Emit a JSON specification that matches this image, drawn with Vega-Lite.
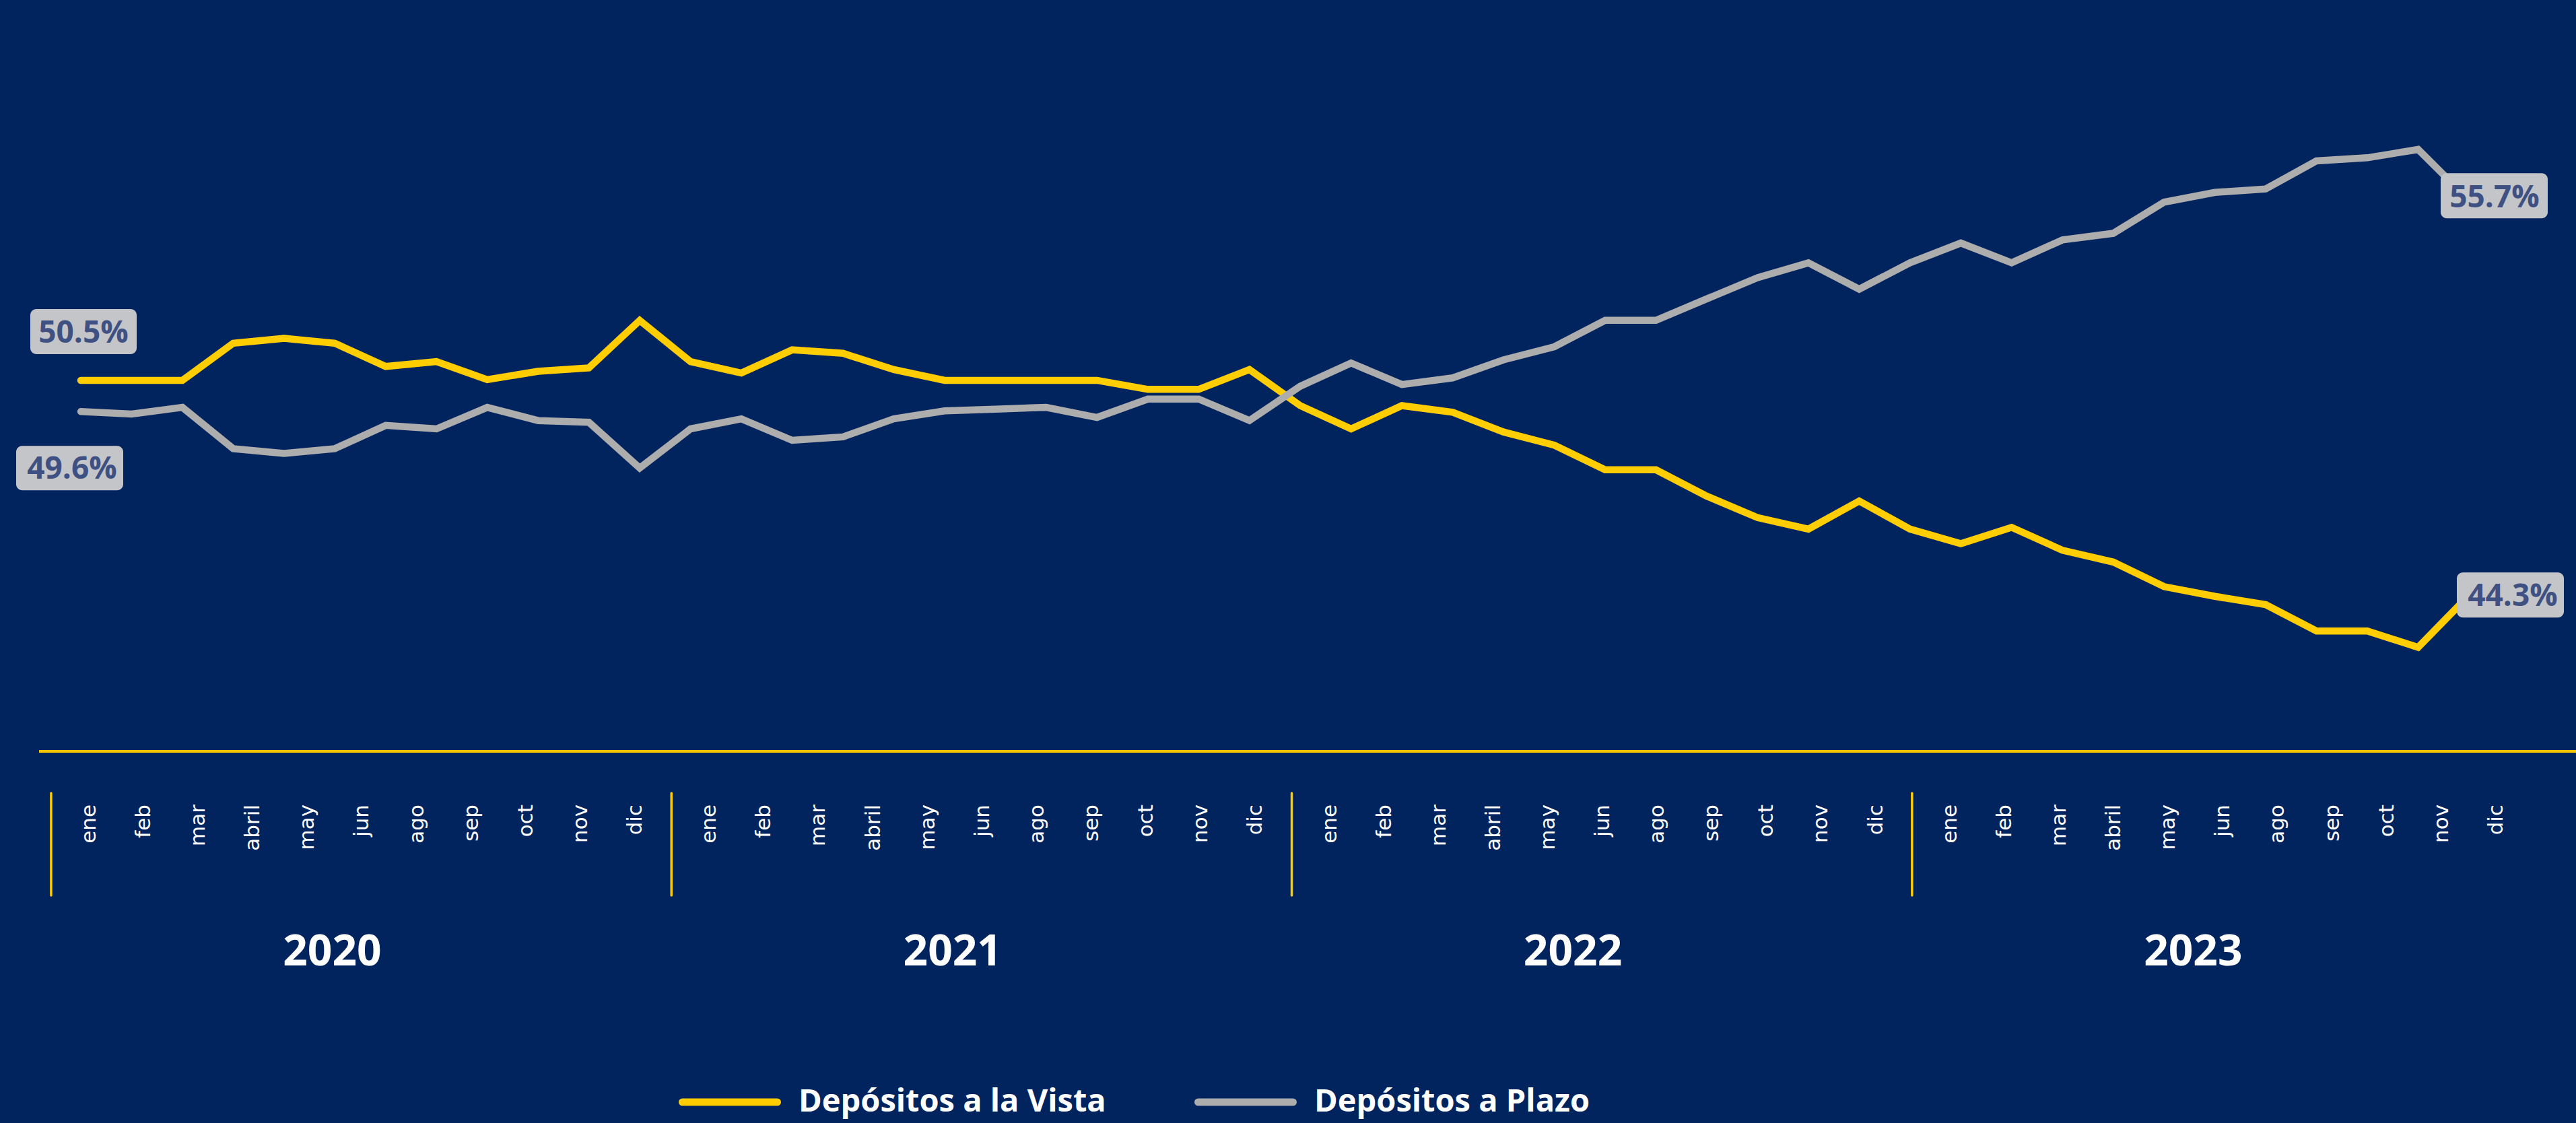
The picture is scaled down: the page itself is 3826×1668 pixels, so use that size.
{
  "$schema": "https://vega.github.io/schema/vega-lite/v6.json",
  "width": 3826,
  "height": 1668,
  "autosize": {"type": "none"},
  "padding": 0,
  "background": "#02245E",
  "config": {"view": {"stroke": null}, "font": "Open Sans"},
  "datasets": {
    "serie": [
      {"mes":"2020-01","serie":"Depósitos a la Vista","valor":50.5},
      {"mes":"2020-02","serie":"Depósitos a la Vista","valor":50.5},
      {"mes":"2020-03","serie":"Depósitos a la Vista","valor":50.5},
      {"mes":"2020-04","serie":"Depósitos a la Vista","valor":51.57},
      {"mes":"2020-05","serie":"Depósitos a la Vista","valor":51.71},
      {"mes":"2020-06","serie":"Depósitos a la Vista","valor":51.57},
      {"mes":"2020-07","serie":"Depósitos a la Vista","valor":50.9},
      {"mes":"2020-08","serie":"Depósitos a la Vista","valor":51.04},
      {"mes":"2020-09","serie":"Depósitos a la Vista","valor":50.52},
      {"mes":"2020-10","serie":"Depósitos a la Vista","valor":50.76},
      {"mes":"2020-11","serie":"Depósitos a la Vista","valor":50.86},
      {"mes":"2020-12","serie":"Depósitos a la Vista","valor":52.23},
      {"mes":"2021-01","serie":"Depósitos a la Vista","valor":51.04},
      {"mes":"2021-02","serie":"Depósitos a la Vista","valor":50.71},
      {"mes":"2021-03","serie":"Depósitos a la Vista","valor":51.38},
      {"mes":"2021-04","serie":"Depósitos a la Vista","valor":51.28},
      {"mes":"2021-05","serie":"Depósitos a la Vista","valor":50.81},
      {"mes":"2021-06","serie":"Depósitos a la Vista","valor":50.5},
      {"mes":"2021-07","serie":"Depósitos a la Vista","valor":50.5},
      {"mes":"2021-08","serie":"Depósitos a la Vista","valor":50.5},
      {"mes":"2021-09","serie":"Depósitos a la Vista","valor":50.5},
      {"mes":"2021-10","serie":"Depósitos a la Vista","valor":50.24},
      {"mes":"2021-11","serie":"Depósitos a la Vista","valor":50.24},
      {"mes":"2021-12","serie":"Depósitos a la Vista","valor":50.81},
      {"mes":"2022-01","serie":"Depósitos a la Vista","valor":49.77},
      {"mes":"2022-02","serie":"Depósitos a la Vista","valor":49.1},
      {"mes":"2022-03","serie":"Depósitos a la Vista","valor":49.77},
      {"mes":"2022-04","serie":"Depósitos a la Vista","valor":49.58},
      {"mes":"2022-05","serie":"Depósitos a la Vista","valor":49.01},
      {"mes":"2022-06","serie":"Depósitos a la Vista","valor":48.63},
      {"mes":"2022-07","serie":"Depósitos a la Vista","valor":47.92},
      {"mes":"2022-08","serie":"Depósitos a la Vista","valor":47.92},
      {"mes":"2022-09","serie":"Depósitos a la Vista","valor":47.16},
      {"mes":"2022-10","serie":"Depósitos a la Vista","valor":46.54},
      {"mes":"2022-11","serie":"Depósitos a la Vista","valor":46.21},
      {"mes":"2022-12","serie":"Depósitos a la Vista","valor":47.02},
      {"mes":"2023-01","serie":"Depósitos a la Vista","valor":46.21},
      {"mes":"2023-02","serie":"Depósitos a la Vista","valor":45.79},
      {"mes":"2023-03","serie":"Depósitos a la Vista","valor":46.26},
      {"mes":"2023-04","serie":"Depósitos a la Vista","valor":45.6},
      {"mes":"2023-05","serie":"Depósitos a la Vista","valor":45.26},
      {"mes":"2023-06","serie":"Depósitos a la Vista","valor":44.55},
      {"mes":"2023-07","serie":"Depósitos a la Vista","valor":44.27},
      {"mes":"2023-08","serie":"Depósitos a la Vista","valor":44.03},
      {"mes":"2023-09","serie":"Depósitos a la Vista","valor":43.27},
      {"mes":"2023-10","serie":"Depósitos a la Vista","valor":43.27},
      {"mes":"2023-11","serie":"Depósitos a la Vista","valor":42.8},
      {"mes":"2023-12","serie":"Depósitos a la Vista","valor":44.3},
      {"mes":"2020-01","serie":"Depósitos a Plazo","valor":49.6},
      {"mes":"2020-02","serie":"Depósitos a Plazo","valor":49.53},
      {"mes":"2020-03","serie":"Depósitos a Plazo","valor":49.72},
      {"mes":"2020-04","serie":"Depósitos a Plazo","valor":48.53},
      {"mes":"2020-05","serie":"Depósitos a Plazo","valor":48.39},
      {"mes":"2020-06","serie":"Depósitos a Plazo","valor":48.53},
      {"mes":"2020-07","serie":"Depósitos a Plazo","valor":49.2},
      {"mes":"2020-08","serie":"Depósitos a Plazo","valor":49.1},
      {"mes":"2020-09","serie":"Depósitos a Plazo","valor":49.72},
      {"mes":"2020-10","serie":"Depósitos a Plazo","valor":49.34},
      {"mes":"2020-11","serie":"Depósitos a Plazo","valor":49.29},
      {"mes":"2020-12","serie":"Depósitos a Plazo","valor":47.97},
      {"mes":"2021-01","serie":"Depósitos a Plazo","valor":49.1},
      {"mes":"2021-02","serie":"Depósitos a Plazo","valor":49.39},
      {"mes":"2021-03","serie":"Depósitos a Plazo","valor":48.77},
      {"mes":"2021-04","serie":"Depósitos a Plazo","valor":48.87},
      {"mes":"2021-05","serie":"Depósitos a Plazo","valor":49.39},
      {"mes":"2021-06","serie":"Depósitos a Plazo","valor":49.62},
      {"mes":"2021-07","serie":"Depósitos a Plazo","valor":49.67},
      {"mes":"2021-08","serie":"Depósitos a Plazo","valor":49.72},
      {"mes":"2021-09","serie":"Depósitos a Plazo","valor":49.43},
      {"mes":"2021-10","serie":"Depósitos a Plazo","valor":49.96},
      {"mes":"2021-11","serie":"Depósitos a Plazo","valor":49.96},
      {"mes":"2021-12","serie":"Depósitos a Plazo","valor":49.34},
      {"mes":"2022-01","serie":"Depósitos a Plazo","valor":50.33},
      {"mes":"2022-02","serie":"Depósitos a Plazo","valor":51.0},
      {"mes":"2022-03","serie":"Depósitos a Plazo","valor":50.38},
      {"mes":"2022-04","serie":"Depósitos a Plazo","valor":50.57},
      {"mes":"2022-05","serie":"Depósitos a Plazo","valor":51.09},
      {"mes":"2022-06","serie":"Depósitos a Plazo","valor":51.47},
      {"mes":"2022-07","serie":"Depósitos a Plazo","valor":52.23},
      {"mes":"2022-08","serie":"Depósitos a Plazo","valor":52.23},
      {"mes":"2022-09","serie":"Depósitos a Plazo","valor":52.85},
      {"mes":"2022-10","serie":"Depósitos a Plazo","valor":53.46},
      {"mes":"2022-11","serie":"Depósitos a Plazo","valor":53.89},
      {"mes":"2022-12","serie":"Depósitos a Plazo","valor":53.13},
      {"mes":"2023-01","serie":"Depósitos a Plazo","valor":53.89},
      {"mes":"2023-02","serie":"Depósitos a Plazo","valor":54.46},
      {"mes":"2023-03","serie":"Depósitos a Plazo","valor":53.89},
      {"mes":"2023-04","serie":"Depósitos a Plazo","valor":54.55},
      {"mes":"2023-05","serie":"Depósitos a Plazo","valor":54.74},
      {"mes":"2023-06","serie":"Depósitos a Plazo","valor":55.64},
      {"mes":"2023-07","serie":"Depósitos a Plazo","valor":55.92},
      {"mes":"2023-08","serie":"Depósitos a Plazo","valor":56.02},
      {"mes":"2023-09","serie":"Depósitos a Plazo","valor":56.83},
      {"mes":"2023-10","serie":"Depósitos a Plazo","valor":56.92},
      {"mes":"2023-11","serie":"Depósitos a Plazo","valor":57.16},
      {"mes":"2023-12","serie":"Depósitos a Plazo","valor":55.7}
    ],
    "meses": [
      {"anio":"2020","mes":"ene"},{"anio":"2020","mes":"feb"},{"anio":"2020","mes":"mar"},{"anio":"2020","mes":"abril"},{"anio":"2020","mes":"may"},{"anio":"2020","mes":"jun"},{"anio":"2020","mes":"ago"},{"anio":"2020","mes":"sep"},{"anio":"2020","mes":"oct"},{"anio":"2020","mes":"nov"},{"anio":"2020","mes":"dic"},
      {"anio":"2021","mes":"ene"},{"anio":"2021","mes":"feb"},{"anio":"2021","mes":"mar"},{"anio":"2021","mes":"abril"},{"anio":"2021","mes":"may"},{"anio":"2021","mes":"jun"},{"anio":"2021","mes":"ago"},{"anio":"2021","mes":"sep"},{"anio":"2021","mes":"oct"},{"anio":"2021","mes":"nov"},{"anio":"2021","mes":"dic"},
      {"anio":"2022","mes":"ene"},{"anio":"2022","mes":"feb"},{"anio":"2022","mes":"mar"},{"anio":"2022","mes":"abril"},{"anio":"2022","mes":"may"},{"anio":"2022","mes":"jun"},{"anio":"2022","mes":"ago"},{"anio":"2022","mes":"sep"},{"anio":"2022","mes":"oct"},{"anio":"2022","mes":"nov"},{"anio":"2022","mes":"dic"},
      {"anio":"2023","mes":"ene"},{"anio":"2023","mes":"feb"},{"anio":"2023","mes":"mar"},{"anio":"2023","mes":"abril"},{"anio":"2023","mes":"may"},{"anio":"2023","mes":"jun"},{"anio":"2023","mes":"ago"},{"anio":"2023","mes":"sep"},{"anio":"2023","mes":"oct"},{"anio":"2023","mes":"nov"},{"anio":"2023","mes":"dic"}
    ],
    "anios": [{"anio":"2020"},{"anio":"2021"},{"anio":"2022"},{"anio":"2023"}]
  },
  "resolve": {"scale": {"x": "independent"}},
  "layer": [
    {
      "data": {"name": "serie"},
      "transform": [{"calculate": "format(datum.valor, '.1f') + '%'", "as": "etiqueta"}],
      "encoding": {
        "x": {"field": "mes", "type": "ordinal", "scale": {"type": "point", "padding": 0, "range": [120, 3667]}, "axis": null},
        "y": {"field": "valor", "type": "quantitative", "scale": {"domain": [29.08, 61.47], "nice": false, "zero": false}, "axis": null}
      },
      "layer": [
        {
          "mark": {"type": "line", "strokeWidth": 10.5, "strokeCap": "round", "strokeJoin": "miter"},
          "encoding": {
            "color": {
              "field": "serie", "type": "nominal",
              "scale": {"domain": ["Depósitos a la Vista", "Depósitos a Plazo"], "range": ["#FFCD00", "#ADADAD"]},
              "legend": {
                "orient": "none", "legendX": 1008, "legendY": 1612, "direction": "horizontal",
                "title": null, "symbolType": "stroke", "symbolSize": 19881, "symbolStrokeWidth": 11,
                "clipHeight": 50, "labelFont": "Open Sans", "labelFontSize": 47, "labelFontWeight": "bold",
                "labelColor": "#FFFFFF", "labelOffset": 26, "columnPadding": 131, "labelLimit": 2000, "padding": 0,
                "encode": {"symbols": {"update": {"strokeCap": {"value": "round"}}}}
              }
            }
          }
        },
        {
          "transform": [{"filter": "datum.serie === 'Depósitos a la Vista' && datum.mes === '2020-01'"}],
          "layer": [
            {"mark": {"type": "rect", "color": "#C4C5C9", "cornerRadius": 9, "xOffset": -75, "x2Offset": 83, "yOffset": -106, "y2Offset": -39},
             "encoding": {"x2": {"field": "mes"}, "y2": {"field": "valor"}}},
            {"mark": {"type": "text", "font": "Open Sans", "fontWeight": "bold", "fontSize": 46, "color": "#3F5182", "dx": 4, "dy": -70, "align": "center", "baseline": "middle"},
             "encoding": {"text": {"field": "etiqueta"}}}
          ]
        },
        {
          "transform": [{"filter": "datum.serie === 'Depósitos a Plazo' && datum.mes === '2020-01'"}],
          "layer": [
            {"mark": {"type": "rect", "color": "#C4C5C9", "cornerRadius": 9, "xOffset": -96, "x2Offset": 63, "yOffset": 51, "y2Offset": 117},
             "encoding": {"x2": {"field": "mes"}, "y2": {"field": "valor"}}},
            {"mark": {"type": "text", "font": "Open Sans", "fontWeight": "bold", "fontSize": 46, "color": "#3F5182", "dx": -13, "dy": 86, "align": "center", "baseline": "middle"},
             "encoding": {"text": {"field": "etiqueta"}}}
          ]
        },
        {
          "transform": [{"filter": "datum.serie === 'Depósitos a Plazo' && datum.mes === '2023-12'"}],
          "layer": [
            {"mark": {"type": "rect", "color": "#C4C5C9", "cornerRadius": 9, "xOffset": -42, "x2Offset": 117, "yOffset": -40, "y2Offset": 27},
             "encoding": {"x2": {"field": "mes"}, "y2": {"field": "valor"}}},
            {"mark": {"type": "text", "font": "Open Sans", "fontWeight": "bold", "fontSize": 46, "color": "#3F5182", "dx": 38, "dy": -3, "align": "center", "baseline": "middle"},
             "encoding": {"text": {"field": "etiqueta"}}}
          ]
        },
        {
          "transform": [{"filter": "datum.serie === 'Depósitos a la Vista' && datum.mes === '2023-12'"}],
          "layer": [
            {"mark": {"type": "rect", "color": "#C4C5C9", "cornerRadius": 9, "xOffset": -18, "x2Offset": 141, "yOffset": -34, "y2Offset": 33},
             "encoding": {"x2": {"field": "mes"}, "y2": {"field": "valor"}}},
            {"mark": {"type": "text", "font": "Open Sans", "fontWeight": "bold", "fontSize": 46, "color": "#3F5182", "dx": 65, "dy": 2, "align": "center", "baseline": "middle"},
             "encoding": {"text": {"field": "etiqueta"}}}
          ]
        }
      ]
    },
    {
      "layer": [
        {
          "data": {"values": [{}]},
          "mark": {"type": "rule", "color": "#F5C400", "strokeWidth": 4},
          "encoding": {"x": {"value": 58}, "x2": {"value": {"expr": "width"}}, "y": {"value": 1116}}
        },
        {
          "data": {"name": "meses"},
          "mark": {"type": "text", "font": "DejaVu Sans", "fontSize": 31, "color": "#FFFFFF", "angle": 270, "align": "right", "baseline": "middle"},
          "encoding": {
            "x": {"field": "anio", "type": "nominal", "scale": {"type": "band", "paddingInner": 0.0318, "paddingOuter": 0.0923, "align": 0.5435}, "axis": null},
            "xOffset": {"field": "mes", "type": "nominal", "sort": ["ene","feb","mar","abril","may","jun","ago","sep","oct","nov","dic"], "scale": {"type": "point", "padding": 0.5}},
            "y": {"value": 1195},
            "text": {"field": "mes"}
          }
        },
        {
          "data": {"name": "anios"},
          "mark": {"type": "rule", "color": "#FFCD00", "strokeWidth": 3.5, "strokeCap": "round", "xOffset": -16.5},
          "encoding": {
            "x": {"field": "anio", "type": "nominal", "bandPosition": 0},
            "y": {"value": 1178},
            "y2": {"value": 1330}
          }
        },
        {
          "data": {"name": "anios"},
          "mark": {"type": "text", "font": "Open Sans", "fontWeight": "bold", "fontSize": 64, "color": "#FFFFFF", "dx": -45, "align": "center", "baseline": "middle"},
          "encoding": {
            "x": {"field": "anio", "type": "nominal"},
            "y": {"value": 1415},
            "text": {"field": "anio"}
          }
        }
      ]
    }
  ]
}
